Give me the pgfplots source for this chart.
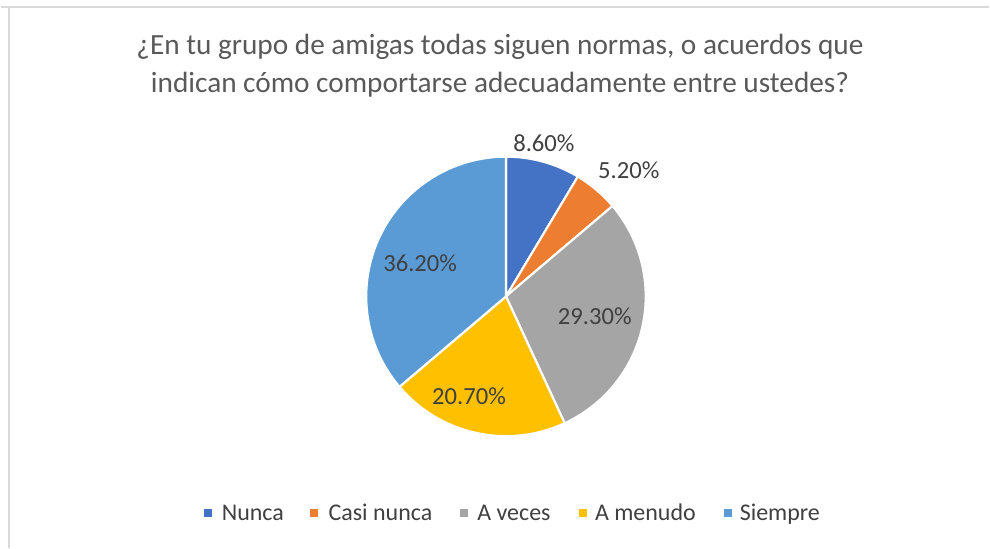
\documentclass[border=0pt]{standalone}
\usepackage{pgfplots}
\pgfplotsset{compat=1.18}
\usepackage{pgfplotstable}
\usepackage{fontspec}
\setmainfont{Carlito}
\definecolor{cNunca}{HTML}{4472C4}
\definecolor{cCasi}{HTML}{ED7D31}
\definecolor{cVeces}{HTML}{A5A5A5}
\definecolor{cMenudo}{HTML}{FFC000}
\definecolor{cSiempre}{HTML}{5B9BD5}
\definecolor{titlegray}{HTML}{595959}
\definecolor{labelgray}{HTML}{404040}
\definecolor{framegray}{HTML}{D9D9D9}

\pgfplotstableread{
label value
Nunca 8.6
Casi_nunca 5.2
A_veces 29.3
A_menudo 20.7
Siempre 36.2
}\piedata

\pgfplotstablegetelem{0}{value}\of\piedata \let\vA\pgfplotsretval
\pgfplotstablegetelem{1}{value}\of\piedata \let\vB\pgfplotsretval
\pgfplotstablegetelem{2}{value}\of\piedata \let\vC\pgfplotsretval
\pgfplotstablegetelem{3}{value}\of\piedata \let\vD\pgfplotsretval
\pgfplotstablegetelem{4}{value}\of\piedata \let\vE\pgfplotsretval
\pgfmathsetmacro{\aA}{90}
\pgfmathsetmacro{\aB}{\aA-3.6*\vA}
\pgfmathsetmacro{\aC}{\aB-3.6*\vB}
\pgfmathsetmacro{\aD}{\aC-3.6*\vC}
\pgfmathsetmacro{\aE}{\aD-3.6*\vD}
\pgfmathsetmacro{\aF}{\aE-3.6*\vE}

\newcommand{\pieslice}[3]{%
  \fill[#3, draw=white, line width=1.6pt, line join=round]
    (axis cs:506,252) -- ++(#1:105pt) arc[start angle=#1, end angle=#2, radius=105pt] -- cycle;}

\begin{document}
\begin{tikzpicture}
\begin{axis}[
  scale only axis, width=742.5pt, height=411.75pt,
  xmin=0, xmax=990, ymin=0, ymax=549,
  hide axis, clip=false,
]
\path (axis cs:0,0) (axis cs:990,549);
% frame
\draw[framegray, line width=1.5pt] (axis cs:0,542) -- (axis cs:990,542);
\draw[framegray, line width=1.5pt] (axis cs:8,542) -- (axis cs:8,0);
% title
\node[font=\fontsize{22}{28.5}\selectfont, text=titlegray, align=center] at (axis cs:500,483)
  {¿En tu grupo de amigas todas siguen normas, o acuerdos que\\indican cómo comportarse adecuadamente entre ustedes?};
% pie
\pieslice{\aA}{\aB}{cNunca}
\pieslice{\aB}{\aC}{cCasi}
\pieslice{\aC}{\aD}{cVeces}
\pieslice{\aD}{\aE}{cMenudo}
\pieslice{\aE}{\aF}{cSiempre}
% labels
\begin{scope}[every node/.style={font=\fontsize{18.5}{22}\selectfont, text=labelgray}]
\node at (axis cs:544,406) {8.60\%};
\node at (axis cs:629,378) {5.20\%};
\node at (axis cs:595,232) {29.30\%};
\node at (axis cs:469,152) {20.70\%};
\node at (axis cs:420,285) {36.20\%};
\end{scope}
% legend
\begin{scope}[every node/.style={font=\fontsize{18}{22}\selectfont, text=labelgray, anchor=base west, inner sep=0pt}]
\fill[cNunca] (axis cs:203,31) rectangle (axis cs:211,39);
\node at (axis cs:221,27) {Nunca};
\fill[cCasi] (axis cs:310,31) rectangle (axis cs:318,39);
\node at (axis cs:328,27) {Casi nunca};
\fill[cVeces] (axis cs:460,31) rectangle (axis cs:468,39);
\node at (axis cs:477,27) {A veces};
\fill[cMenudo] (axis cs:579,31) rectangle (axis cs:587,39);
\node at (axis cs:595,27) {A menudo};
\fill[cSiempre] (axis cs:724,31) rectangle (axis cs:732,39);
\node at (axis cs:740,27) {Siempre};
\end{scope}
\end{axis}
\end{tikzpicture}
\end{document}
